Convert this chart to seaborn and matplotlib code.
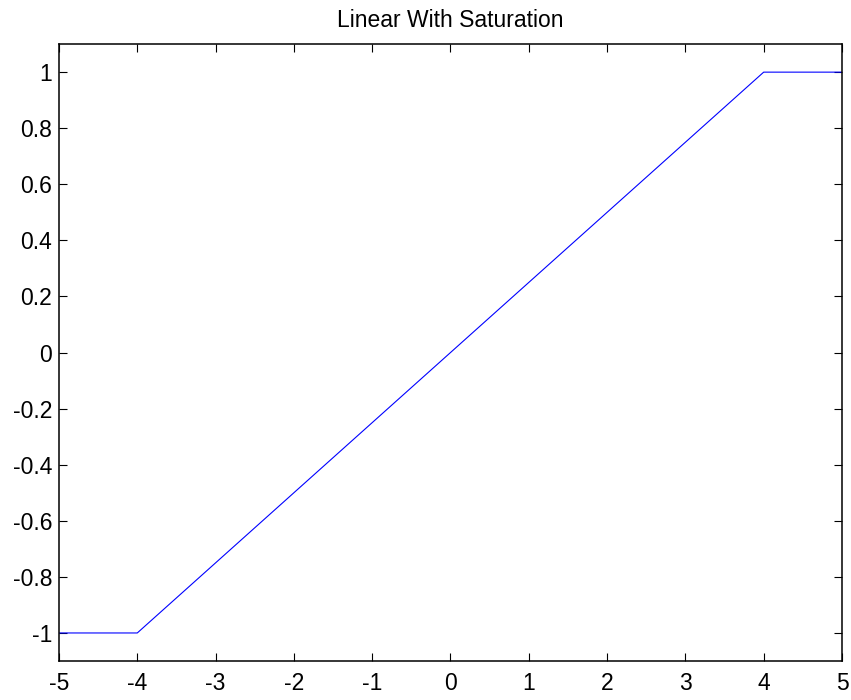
import matplotlib
matplotlib.use("Agg")
import matplotlib.pyplot as plt
import seaborn as sns
import pandas as pd

# Saturating linear transfer function: breakpoints of the piecewise curve
x_vals = [-5, -4, 4, 5]
y_vals = [-1, -1, 1, 1]
x_ticks = [-5, -4, -3, -2, -1, 0, 1, 2, 3, 4, 5]
y_ticks = [-1, -0.8, -0.6, -0.4, -0.2, 0, 0.2, 0.4, 0.6, 0.8, 1]

sns.set_style("ticks")
plt.rcParams["font.family"] = ["Liberation Sans", "DejaVu Sans"]

df = pd.DataFrame({"x": x_vals, "y": y_vals})

fig = plt.figure(figsize=(8.51, 7.0), dpi=100)
ax = fig.add_axes([0.0693, 0.0557, 0.9201, 0.8813])

sns.lineplot(data=df, x="x", y="y", ax=ax, color="#0000ff", linewidth=0.8,
             estimator=None, sort=False)

ax.set_xlim(-5, 5)
ax.set_ylim(-1.1, 1.1)
ax.set_xticks(x_ticks)
ax.set_yticks(y_ticks)
ax.set_xticklabels([f"{v:g}" for v in x_ticks])
ax.set_yticklabels([f"{v:g}" for v in y_ticks])
ax.set_xlabel("")
ax.set_ylabel("")
ax.set_title("Linear With Saturation", fontsize=16.5, pad=12, color="black")

for side in ["top", "right", "bottom", "left"]:
    ax.spines[side].set_visible(True)
    ax.spines[side].set_linewidth(1.1)
    ax.spines[side].set_color("black")

ax.tick_params(direction="in", length=5.5, width=0.8, top=True, right=True,
               labelsize=16.5, colors="black")
ax.tick_params(axis="x", pad=8)
ax.tick_params(axis="y", pad=5)

fig.savefig("out.png", dpi=100)
